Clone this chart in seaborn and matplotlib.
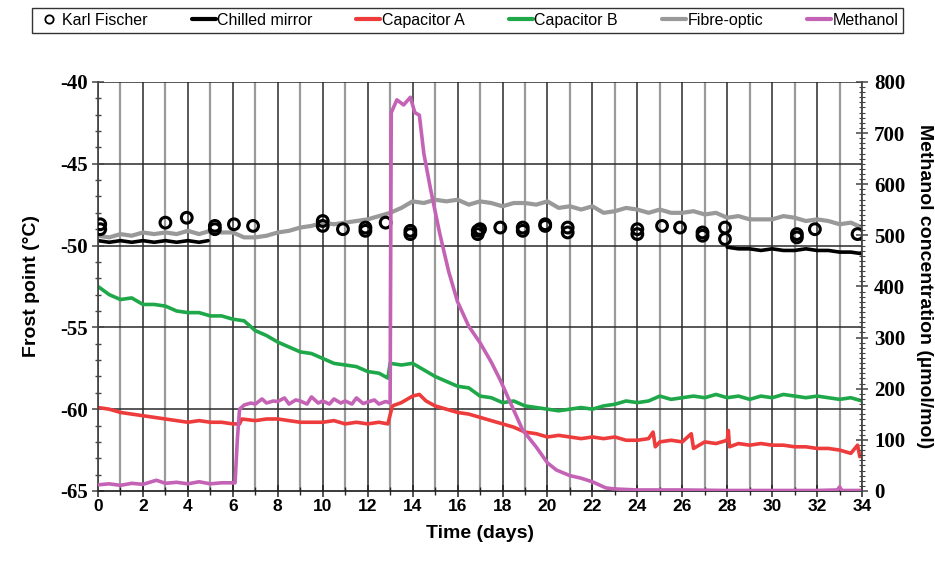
import numpy as np
import pandas as pd
import matplotlib
matplotlib.use("Agg")
import matplotlib.pyplot as plt
from matplotlib.lines import Line2D
from matplotlib.ticker import MultipleLocator
import seaborn as sns

# ---------------- data ----------------
t_half = [i * 0.5 for i in range(69)]

fibre_optic = [-49.4, -49.5, -49.3, -49.4, -49.2, -49.3, -49.2, -49.3, -49.1, -49.3,
               -49.1, -49.2, -49.2, -49.5, -49.5, -49.4, -49.2, -49.1, -48.9, -48.8,
               -48.6, -48.7, -48.6, -48.5, -48.4, -48.2, -48.0, -47.7, -47.3, -47.4,
               -47.2, -47.3, -47.2, -47.5, -47.3, -47.4, -47.6, -47.4, -47.4, -47.5,
               -47.3, -47.7, -47.6, -47.8, -47.6, -48.0, -47.9, -47.7, -47.8, -48.0,
               -47.8, -48.0, -48.0, -47.9, -48.1, -48.0, -48.3, -48.2, -48.4, -48.4,
               -48.4, -48.2, -48.3, -48.5, -48.4, -48.5, -48.7, -48.6, -48.9]

capB_t = [0, 0.5, 1, 1.5, 2, 2.5, 3, 3.5, 4, 4.5, 5, 5.5, 6, 6.5, 7, 7.5, 8, 8.5, 9, 9.5,
          10, 10.5, 11, 11.5, 12, 12.5, 12.9, 13.0, 13.5, 14, 14.5, 15, 15.5, 16, 16.5,
          17, 17.5, 18, 18.5, 19, 19.5, 20, 20.5, 21, 21.5, 22, 22.5, 23, 23.5, 24, 24.5,
          25, 25.5, 26, 26.5, 27, 27.5, 28, 28.5, 29, 29.5, 30, 30.5, 31, 31.5, 32, 32.5,
          33, 33.5, 34]
capB = [-52.5, -53.0, -53.3, -53.2, -53.6, -53.6, -53.7, -54.0, -54.1, -54.1, -54.3,
        -54.3, -54.5, -54.6, -55.2, -55.5, -55.9, -56.2, -56.5, -56.6, -56.9, -57.2,
        -57.3, -57.4, -57.7, -57.8, -58.1, -57.2, -57.3, -57.2, -57.6, -58.0, -58.3,
        -58.6, -58.7, -59.2, -59.3, -59.6, -59.5, -59.8, -59.9, -60.0, -60.1, -60.0,
        -59.9, -60.0, -59.8, -59.7, -59.5, -59.6, -59.5, -59.2, -59.4, -59.3, -59.2,
        -59.3, -59.1, -59.3, -59.2, -59.4, -59.2, -59.3, -59.1, -59.2, -59.3, -59.2,
        -59.3, -59.4, -59.3, -59.5]

capA_t = [0, 0.5, 1, 1.5, 2, 2.5, 3, 3.5, 4, 4.5, 5, 5.5, 6, 6.3, 6.4, 7, 7.5, 8, 8.5,
          9, 9.5, 10, 10.5, 11, 11.5, 12, 12.5, 12.9, 13.1, 13.5, 14, 14.3, 14.6, 15,
          15.5, 16, 16.5, 17, 17.5, 18, 18.5, 19, 19.5, 20, 20.5, 21, 21.5, 22, 22.5,
          23, 23.5, 24, 24.5, 24.7, 24.8, 25, 25.5, 26, 26.4, 26.5, 27, 27.5, 28, 28.05,
          28.1, 28.5, 29, 29.5, 30, 30.5, 31, 31.5, 32, 32.5, 33, 33.5, 33.8, 33.9, 34]
capA = [-59.9, -60.0, -60.2, -60.3, -60.4, -60.5, -60.6, -60.7, -60.8, -60.7, -60.8,
        -60.8, -60.9, -60.9, -60.6, -60.7, -60.6, -60.6, -60.7, -60.8, -60.8, -60.8,
        -60.7, -60.9, -60.8, -60.9, -60.8, -60.9, -59.8, -59.6, -59.2, -59.1, -59.5,
        -59.8, -60.0, -60.2, -60.3, -60.5, -60.7, -60.9, -61.1, -61.4, -61.5, -61.7,
        -61.6, -61.7, -61.8, -61.7, -61.8, -61.7, -61.9, -61.9, -61.8, -61.4, -62.3,
        -62.0, -61.9, -62.0, -61.5, -62.4, -62.0, -62.1, -61.9, -61.3, -62.3, -62.1,
        -62.2, -62.1, -62.2, -62.2, -62.3, -62.3, -62.4, -62.4, -62.5, -62.7, -62.2,
        -62.9, -62.8]

mirror1_t = [0, 0.5, 1, 1.5, 2, 2.5, 3, 3.5, 4, 4.5, 4.9]
mirror1 = [-49.7, -49.8, -49.7, -49.8, -49.7, -49.8, -49.7, -49.8, -49.7, -49.8, -49.7]
mirror2_t = [28, 28.5, 29, 29.5, 30, 30.5, 31, 31.5, 32, 32.5, 33, 33.5, 34]
mirror2 = [-50.1, -50.2, -50.2, -50.3, -50.2, -50.3, -50.3, -50.2, -50.3, -50.3,
           -50.4, -50.4, -50.5]

kf_t = [0.1, 0.1, 3.0, 3.95, 5.2, 5.2, 6.05, 6.9, 10.0, 10.0, 10.9, 11.9, 11.9, 12.8,
        13.9, 13.9, 16.9, 16.9, 17.0, 17.9, 18.9, 18.9, 19.9, 19.9, 20.9, 20.9, 24.0,
        24.0, 25.1, 25.9, 26.9, 26.9, 27.9, 27.9, 31.1, 31.1, 31.9, 33.8]
kf = [-48.7, -49.0, -48.6, -48.3, -48.8, -49.0, -48.7, -48.8, -48.5, -48.8, -49.0,
      -48.9, -49.1, -48.6, -49.1, -49.3, -49.1, -49.3, -49.0, -48.9, -48.9, -49.1,
      -48.7, -48.8, -48.9, -49.2, -49.0, -49.3, -48.8, -48.9, -49.2, -49.4, -48.9,
      -49.6, -49.3, -49.5, -49.0, -49.3]

meth_t = [0, 0.5, 1, 1.5, 2, 2.6, 3, 3.5, 4, 4.5, 5, 5.5, 6.1, 6.2, 6.3, 6.5, 6.8, 7,
          7.3, 7.5, 7.8, 8, 8.3, 8.5, 8.8, 9, 9.3, 9.5, 9.8, 10, 10.3, 10.5, 10.8, 11,
          11.3, 11.5, 11.8, 12, 12.3, 12.5, 12.8, 13.0, 13.05, 13.3, 13.6, 13.9, 14.1,
          14.3, 14.5, 14.8, 15.2, 15.6, 16.0, 16.5, 17.0, 17.5, 17.9, 18.5, 18.9, 19.5,
          20.0, 20.4, 21.0, 21.5, 22.0, 22.6, 23.0, 24.0, 26.0, 28.0, 30.0, 32.0, 32.9,
          33.0, 33.1, 34.0]
methanol = [12, 14, 11, 15, 13, 21, 15, 17, 14, 18, 14, 16, 16, 100, 160, 168, 172,
            170, 180, 172, 176, 175, 182, 170, 178, 176, 170, 184, 172, 176, 170, 180,
            172, 176, 170, 182, 171, 174, 178, 170, 175, 172, 740, 765, 755, 770, 740,
            735, 660, 590, 505, 430, 370, 322, 290, 252, 217, 158, 119, 86, 55, 41, 30,
            25, 18, 6, 4, 2, 2, 1, 1, 1, 2, 8, 1, 1]

legend_labels = ["Karl Fischer", "Chilled mirror", "Capacitor A", "Capacitor B",
                 "Fibre-optic", "Methanol"]

# ---------------- style ----------------
sns.set_theme(style="white")
plt.rcParams["font.family"] = ["Liberation Sans", "DejaVu Sans"]
plt.rcParams["axes.unicode_minus"] = False
plt.rcParams["text.color"] = "black"
plt.rcParams["axes.labelcolor"] = "black"

C_RED = "#ee3b3b"
C_GREEN = "#1fa84a"
C_GRAY = "#999999"
C_MAG = "#c463b5"
LW = 2.6

fig = plt.figure(figsize=(9.35, 5.65), dpi=100)
ax = fig.add_axes([0.1048, 0.131, 0.8172, 0.724])
ax2 = ax.twinx()

# grid lines
for d in range(0, 35):
    if d % 2 == 0:
        ax.axvline(d, color="#2a2a2a", lw=1.1, zorder=0)
    else:
        ax.axvline(d, color="#9a9a9a", lw=1.6, zorder=0)
for v in [-45, -50, -55, -60]:
    ax.axhline(v, color="#2a2a2a", lw=1.1, zorder=0)

df_fo = pd.DataFrame({"t": t_half, "v": fibre_optic})
df_b = pd.DataFrame({"t": capB_t, "v": capB})
df_a = pd.DataFrame({"t": capA_t, "v": capA})
df_m1 = pd.DataFrame({"t": mirror1_t, "v": mirror1})
df_m2 = pd.DataFrame({"t": mirror2_t, "v": mirror2})
df_kf = pd.DataFrame({"t": kf_t, "v": kf})
df_me = pd.DataFrame({"t": meth_t, "v": methanol})

kw = dict(x="t", y="v", estimator=None, sort=False, legend=False)
sns.lineplot(data=df_fo, ax=ax, color=C_GRAY, lw=LW + 0.4, **kw)
sns.lineplot(data=df_b, ax=ax, color=C_GREEN, lw=LW, **kw)
sns.lineplot(data=df_a, ax=ax, color=C_RED, lw=LW, **kw)
sns.lineplot(data=df_m1, ax=ax, color="black", lw=LW, **kw)
sns.lineplot(data=df_m2, ax=ax, color="black", lw=LW, **kw)
sns.scatterplot(data=df_kf, x="t", y="v", ax=ax, marker="o", s=60,
                facecolor="none", edgecolor="black", linewidth=2.2, legend=False, zorder=5)
sns.lineplot(data=df_me, ax=ax2, color=C_MAG, lw=LW, **kw)

ax.set_xlim(0, 34)
ax.set_ylim(-65, -40)
ax2.set_ylim(0, 800)

ax.xaxis.set_minor_locator(MultipleLocator(1))
ax.yaxis.set_minor_locator(MultipleLocator(1))
ax2.yaxis.set_minor_locator(MultipleLocator(10))

for a in (ax, ax2):
    for s in a.spines.values():
        s.set_visible(False)
ax.spines["left"].set_visible(True)
ax.spines["bottom"].set_visible(True)
ax.spines["left"].set_color("#444444")
ax.spines["bottom"].set_color("#222222")
ax2.spines["right"].set_visible(True)
ax2.spines["right"].set_color("#444444")
ax.axhline(-40, color="#2a2a2a", lw=1.1, zorder=0)

ax.tick_params(axis="x", which="major", direction="inout", length=8, width=1.1,
               colors="#222222", labelcolor="black", pad=2, bottom=True)
ax.tick_params(axis="x", which="minor", direction="inout", length=6, width=1.0,
               colors="#222222", bottom=True)
ax.tick_params(axis="y", which="major", direction="inout", length=9, width=1.1,
               colors="#444444", labelcolor="black", pad=3, left=True)
ax.tick_params(axis="y", which="minor", direction="inout", length=5, width=1.0,
               colors="#444444", left=True)
ax2.tick_params(axis="y", which="major", direction="inout", length=9, width=1.1,
                colors="#444444", labelcolor="black", pad=4, right=True)
ax2.tick_params(axis="y", which="minor", direction="inout", length=5, width=0.8,
                colors="#444444", right=True)

xt = list(range(0, 35, 2))
ax.set_xticks(xt)
ax.set_xticklabels([str(v) for v in xt], fontweight="bold", fontsize=12.5)
yt = [-65, -60, -55, -50, -45, -40]
ax.set_yticks(yt)
ax.set_yticklabels([str(v) for v in yt], fontweight="bold", fontsize=15,
                   fontfamily=["Liberation Serif", "DejaVu Serif"])
y2t = list(range(0, 801, 100))
ax2.set_yticks(y2t)
ax2.set_yticklabels([str(v) for v in y2t], fontweight="bold", fontsize=15,
                    fontfamily=["Liberation Serif", "DejaVu Serif"])

ax.set_xlabel("Time (days)", fontsize=14, fontweight="bold", labelpad=8)
ax.set_ylabel("Frost point (°C)", fontsize=14, fontweight="bold", labelpad=14)
ax2.set_ylabel("Methanol concentration (µmol/mol)", fontsize=14, fontweight="bold",
               rotation=270, labelpad=20)

handles = [
    Line2D([], [], ls="none", marker="o", mfc="none", mec="black", ms=6, mew=1.3),
    Line2D([], [], color="black", lw=3),
    Line2D([], [], color=C_RED, lw=3),
    Line2D([], [], color=C_GREEN, lw=3),
    Line2D([], [], color=C_GRAY, lw=3),
    Line2D([], [], color=C_MAG, lw=3),
]
leg = fig.legend(handles, legend_labels, loc="center", bbox_to_anchor=(0.5, 0.964),
                 ncol=6, frameon=True, fancybox=False, fontsize=11.5,
                 handlelength=1.5, handletextpad=0.1, columnspacing=2.75,
                 borderpad=0.3)
leg.get_frame().set_edgecolor("black")
leg.get_frame().set_linewidth(1.0)

fig.savefig("out.png", dpi=100)
